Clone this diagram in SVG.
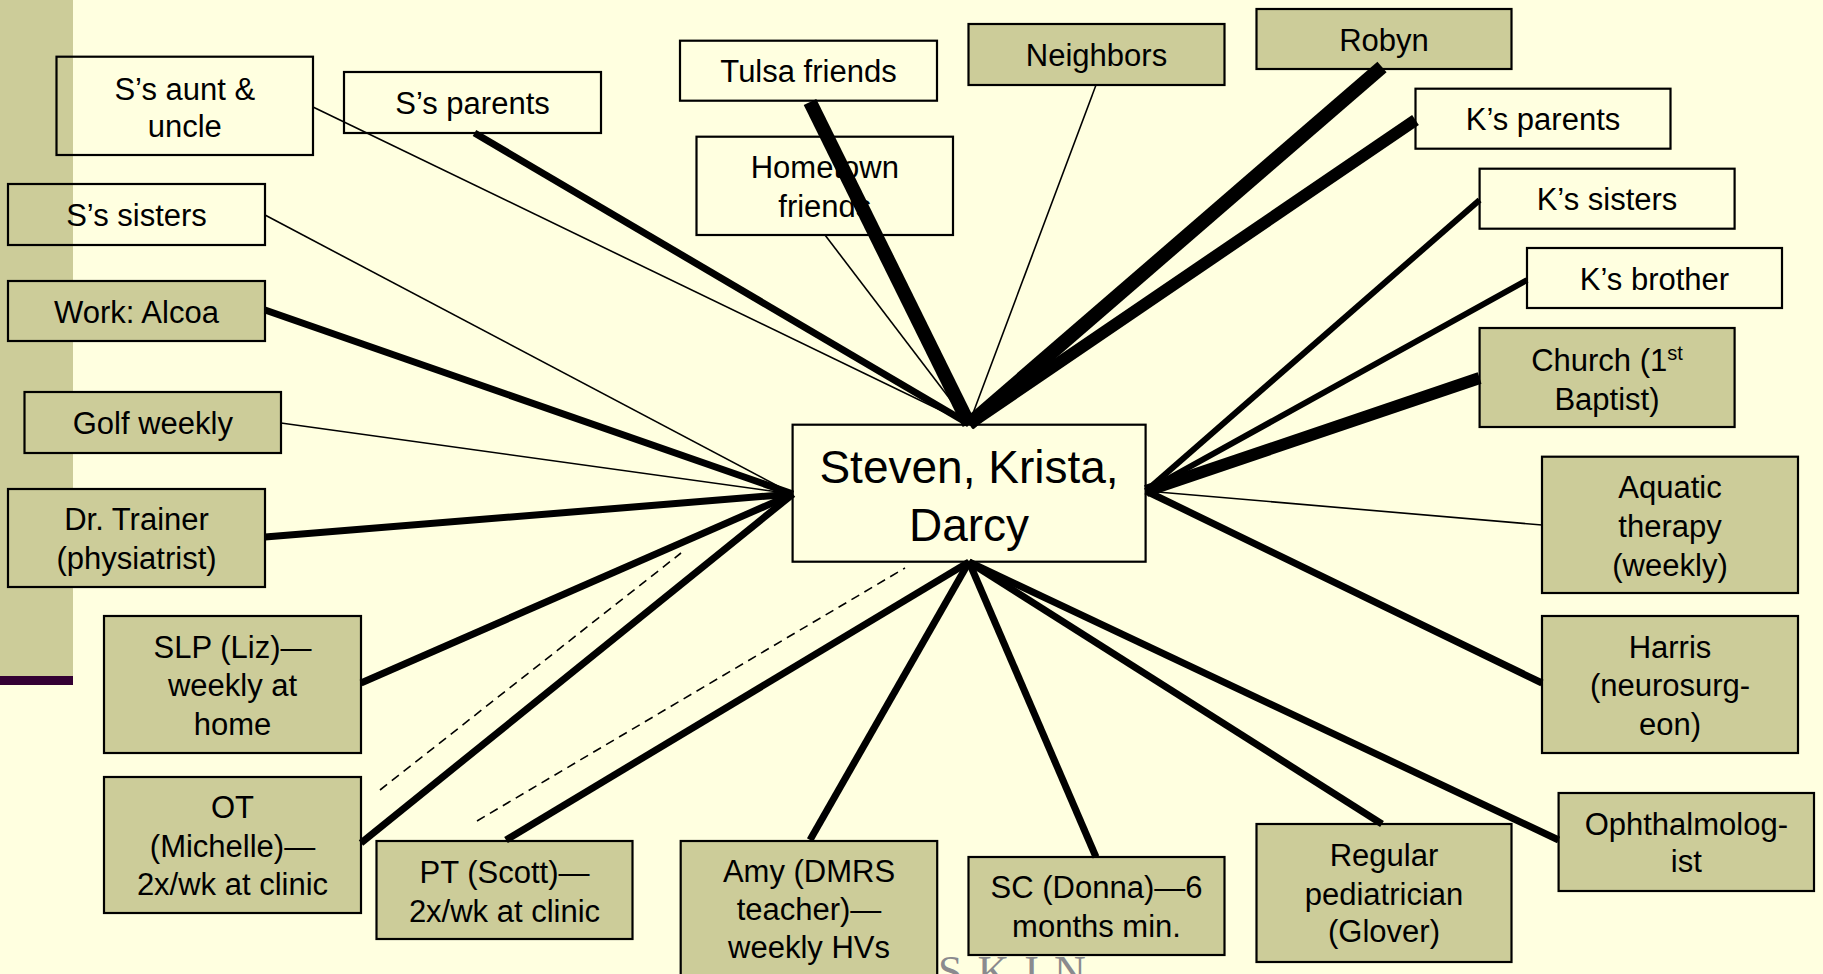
<svg xmlns="http://www.w3.org/2000/svg" width="1823" height="974" viewBox="0 0 1823 974">
<style>
.box{stroke:#000;stroke-width:2.2}
.olive{fill:#CCCC99}
.plain{fill:none}
.t{font-family:"Liberation Sans",Arial,sans-serif;font-size:31px;text-anchor:middle;fill:#000}
.big{font-size:46px}
.sup{font-size:20px}
#connectors line{stroke:#000;stroke-linecap:butt}
.thin{stroke-width:1.6}
.med{stroke-width:7}
.k6{stroke-width:6}
.k12{stroke-width:12}
.thick{stroke-width:14}
.dash{stroke-width:1.6;stroke-dasharray:9 6}
</style>
<rect x="0" y="0" width="1823" height="974" fill="#FFFFE0"/>
<rect x="0" y="0" width="73" height="676" fill="#CCCC99"/>
<rect x="0" y="676" width="73" height="9" fill="#330033"/>
<text x="938" y="986" font-family="'Liberation Serif',serif" font-size="44" fill="#8A8A8E" letter-spacing="2">S K I N</text>

<g id="n-aunt"><rect class="box plain" x="56.5" y="56.7" width="256.5" height="98.3"/><text class="t" x="184.8" y="99.5">S’s aunt &amp;</text><text class="t" x="184.8" y="137">uncle</text></g>
<g id="n-sparents"><rect class="box plain" x="344" y="72" width="257" height="61"/><text class="t" x="472.5" y="114">S’s parents</text></g>
<g id="n-ssisters"><rect class="box plain" x="8" y="184" width="257" height="61"/><text class="t" x="136.5" y="226">S’s sisters</text></g>
<g id="n-work"><rect class="box olive" x="8" y="281" width="257" height="60"/><text class="t" x="136.5" y="322.5">Work: Alcoa</text></g>
<g id="n-golf"><rect class="box olive" x="24.5" y="392" width="256.5" height="61"/><text class="t" x="152.8" y="434">Golf weekly</text></g>
<g id="n-trainer"><rect class="box olive" x="8" y="489" width="257" height="98"/><text class="t" x="136.5" y="530">Dr. Trainer</text><text class="t" x="136.5" y="569">(physiatrist)</text></g>
<g id="n-slp"><rect class="box olive" x="104" y="616" width="257" height="137"/><text class="t" x="232.5" y="657.5">SLP (Liz)—</text><text class="t" x="232.5" y="696">weekly at</text><text class="t" x="232.5" y="734.5">home</text></g>
<g id="n-ot"><rect class="box olive" x="104" y="777" width="257" height="136"/><text class="t" x="232.5" y="818">OT</text><text class="t" x="232.5" y="857">(Michelle)—</text><text class="t" x="232.5" y="895">2x/wk at clinic</text></g>
<g id="n-pt"><rect class="box olive" x="376.5" y="841" width="256" height="98"/><text class="t" x="504.5" y="882.5">PT (Scott)—</text><text class="t" x="504.5" y="921.5">2x/wk at clinic</text></g>
<g id="n-amy"><rect class="box olive" x="680.7" y="841" width="256.5" height="140"/><text class="t" x="809" y="881.7">Amy (DMRS</text><text class="t" x="809" y="920">teacher)—</text><text class="t" x="809" y="958">weekly HVs</text></g>
<g id="n-sc"><rect class="box olive" x="968.5" y="857" width="256" height="98"/><text class="t" x="1096.5" y="898">SC (Donna)—6</text><text class="t" x="1096.5" y="936.7">months min.</text></g>
<g id="n-ped"><rect class="box olive" x="1256.5" y="824" width="255" height="138"/><text class="t" x="1384" y="866">Regular</text><text class="t" x="1384" y="904.5">pediatrician</text><text class="t" x="1384" y="942">(Glover)</text></g>
<g id="n-oph"><rect class="box olive" x="1558.6" y="793" width="255.4" height="98"/><text class="t" x="1686.3" y="834.5">Ophthalmolog-</text><text class="t" x="1686.3" y="872">ist</text></g>
<g id="n-harris"><rect class="box olive" x="1542" y="616" width="256" height="137"/><text class="t" x="1670" y="657.5">Harris</text><text class="t" x="1670" y="696">(neurosurg-</text><text class="t" x="1670" y="734.5">eon)</text></g>
<g id="n-aquatic"><rect class="box olive" x="1542" y="456.7" width="256" height="136.3"/><text class="t" x="1670" y="498">Aquatic</text><text class="t" x="1670" y="537">therapy</text><text class="t" x="1670" y="575.5">(weekly)</text></g>
<g id="n-church"><rect class="box olive" x="1479.6" y="328" width="255" height="99"/><text class="t" x="1607" y="370.5">Church (1<tspan class="sup" dy="-11">st</tspan></text><text class="t" x="1607" y="409.5">Baptist)</text></g>
<g id="n-kbrother"><rect class="box plain" x="1527" y="248" width="255" height="60"/><text class="t" x="1654.5" y="289.5">K’s brother</text></g>
<g id="n-ksisters"><rect class="box plain" x="1479.6" y="168.7" width="255" height="60"/><text class="t" x="1607" y="210">K’s sisters</text></g>
<g id="n-kparents"><rect class="box plain" x="1415.5" y="88.7" width="255" height="60"/><text class="t" x="1543" y="130">K’s parents</text></g>
<g id="n-robyn"><rect class="box olive" x="1256.5" y="9" width="255" height="60"/><text class="t" x="1384" y="51">Robyn</text></g>
<g id="n-neighbors"><rect class="box olive" x="968.5" y="24" width="256" height="61"/><text class="t" x="1096.5" y="66">Neighbors</text></g>
<g id="n-tulsa"><rect class="box plain" x="680" y="40.7" width="257" height="60"/><text class="t" x="808.5" y="82">Tulsa friends</text></g>
<g id="n-hometown"><rect class="box plain" x="696.5" y="136.7" width="256.5" height="98.3"/><text class="t" x="824.8" y="178">Hometown</text><text class="t" x="824.8" y="217">friends</text></g>
<g id="n-center"><rect class="box" fill="#FFFFE0" x="792.6" y="424.7" width="353" height="137"/><text class="t big" x="969" y="482.7">Steven, Krista,</text><text class="t big" x="969" y="540.7">Darcy</text></g>

<g id="connectors">
<line class="med" x1="474.5" y1="133" x2="969" y2="424"/>
<line class="thin" x1="313" y1="107" x2="969" y2="424"/>
<line class="thick" x1="810" y1="102" x2="969" y2="424"/>
<line class="thin" x1="825" y1="235" x2="969" y2="424"/>
<line class="thin" x1="1096" y1="85" x2="969" y2="424"/>
<line class="thick" x1="1382" y1="67" x2="969" y2="424"/>
<line class="k12" x1="1415.5" y1="120" x2="969" y2="424"/>
<line class="thin" x1="265" y1="215" x2="793" y2="494"/>
<line class="med" x1="265" y1="310" x2="793" y2="494"/>
<line class="thin" x1="281" y1="423" x2="793" y2="494"/>
<line class="med" x1="265" y1="537" x2="793" y2="494"/>
<line class="med" x1="361" y1="683" x2="793" y2="494"/>
<line class="med" x1="361" y1="843" x2="793" y2="494"/>
<line class="dash" x1="380" y1="790" x2="681" y2="553"/>
<line class="dash" x1="477" y1="821" x2="905" y2="568"/>
<line class="med" x1="506" y1="840" x2="969" y2="562"/>
<line class="med" x1="810" y1="840" x2="969" y2="562"/>
<line class="med" x1="1096" y1="857" x2="969" y2="562"/>
<line class="med" x1="1382" y1="824" x2="969" y2="562"/>
<line class="med" x1="1558.6" y1="840" x2="969" y2="562"/>
<line class="k6" x1="1479.6" y1="200" x2="1146" y2="491"/>
<line class="k6" x1="1527" y1="280" x2="1146" y2="491"/>
<line class="k12" x1="1479.6" y1="378" x2="1146" y2="491"/>
<line class="thin" x1="1542" y1="525" x2="1146" y2="491"/>
<line class="med" x1="1542" y1="683" x2="1146" y2="491"/>
</g>
</svg>
